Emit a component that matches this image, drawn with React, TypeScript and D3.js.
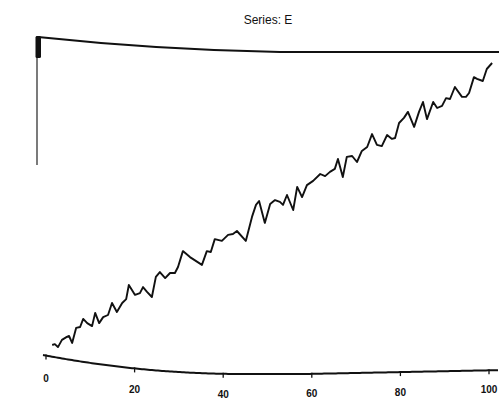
import * as d3 from "d3";

// Series E (x = index, y = value)
const xs = [1.4, 2.0, 2.7, 3.6, 4.7, 5.2, 5.9, 6.8, 7.7, 8.4, 9.3, 10.4, 11.1, 12.0, 12.9, 14.0, 14.9, 16.0, 17.2, 18.1, 18.7, 20.1, 21.2, 21.9, 22.8, 23.9, 24.8, 25.7, 26.9, 28.0, 29.1, 29.8, 30.9, 32.5, 35.2, 36.3, 37.2, 38.1, 39.7, 41.1, 42.2, 43.1, 45.1, 46.5, 47.4, 48.1, 49.4, 50.6, 51.7, 52.8, 53.5, 54.4, 55.8, 56.7, 57.8, 58.9, 60.3, 61.9, 63.0, 64.1, 65.2, 65.9, 67.0, 67.9, 69.1, 70.2, 71.3, 72.5, 73.6, 74.7, 75.8, 77.0, 78.1, 78.8, 79.7, 80.8, 81.7, 83.1, 84.2, 85.1, 86.0, 87.4, 88.3, 89.4, 90.3, 91.2, 92.3, 93.9, 94.8, 95.5, 96.6, 97.3, 98.6, 99.5, 100.7];
const ys = [5.0, 5.3, 4.3, 6.7, 7.7, 8.0, 5.7, 10.7, 11.0, 13.7, 12.3, 11.3, 15.7, 12.3, 14.3, 15.0, 19.0, 16.0, 19.0, 20.3, 25.0, 21.7, 22.3, 24.3, 22.7, 21.0, 27.7, 29.3, 27.3, 29.0, 29.0, 31.0, 36.3, 34.3, 31.7, 36.3, 36.0, 40.3, 39.7, 41.7, 42.0, 43.0, 39.7, 47.7, 51.7, 53.0, 45.7, 52.0, 53.3, 52.7, 51.7, 55.0, 50.0, 57.7, 54.3, 58.3, 59.7, 62.0, 61.3, 62.7, 63.7, 67.0, 61.0, 67.7, 68.0, 66.0, 69.7, 71.0, 75.3, 71.7, 71.3, 75.0, 73.7, 74.0, 79.0, 80.7, 82.7, 77.7, 82.7, 86.0, 80.3, 86.0, 84.0, 84.7, 87.3, 87.0, 91.0, 87.7, 87.7, 89.0, 94.3, 93.7, 93.0, 97.0, 99.0];
const xTicks = [0, 20, 40, 60, 80, 100];
const title = "Series: E";

const W = 499;
const H = 401;

// the scan is bent, so each tick label sits at its own height
const labelY: Record<number, number> = { 0: 382, 20: 393, 40: 398, 60: 397, 80: 396, 100: 393 };

export default function App() {
  const x = d3.scaleLinear().domain([0, 100]).range([46, 489]);
  const y = d3.scaleLinear().domain([0, 100]).range([360, 60]);

  const pts: [number, number][] = xs.map((v, i) => [v, ys[i]]);
  const line = d3
    .line<[number, number]>()
    .x((d) => x(d[0]))
    .y((d) => y(d[1]))
    .curve(d3.curveLinear);

  // bottom axis sags, top border droops on the left
  const sag = (px: number) => {
    const t = Math.min(1, Math.max(0, (px - 43) / 200));
    return 355 + 19 * (1 - (1 - t) * (1 - t)) - Math.max(0, (px - 305) / 200) * 4;
  };
  const bottom = d3.path();
  bottom.moveTo(43, sag(43));
  for (let px = 44; px <= W; px += 2) bottom.lineTo(px, sag(px));

  const top = d3.path();
  top.moveTo(38, 37);
  top.quadraticCurveTo(160, 50, 280, 52);
  top.lineTo(W, 52);

  return (
    <svg width={W} height={H} style={{ position: "absolute", left: 0, top: 0, background: "#fff" }}>
      <text x={268} y={24} textAnchor="middle" fontFamily="Liberation Sans, Arial, sans-serif" fontSize={12} fill="#111">
        {title}
      </text>

      {/* frame */}
      <path d={top.toString()} fill="none" stroke="#111" strokeWidth={2} />
      <line x1={37} y1={36} x2={37} y2={165} stroke="#222" strokeWidth={1.2} />
      <rect x={35.5} y={36} width={5.5} height={22} fill="#111" rx={1.5} />
      <path d={bottom.toString()} fill="none" stroke="#111" strokeWidth={2} />

      {xTicks.map((t) => (
        <g key={t}>
          <line x1={x(t)} x2={x(t)} y1={sag(x(t)) - 1} y2={sag(x(t)) + 4} stroke="#111" strokeWidth={1.3} />
          <text
            x={x(t)}
            y={labelY[t]}
            textAnchor="middle"
            fontFamily="Liberation Sans, Arial, sans-serif"
            fontWeight="bold"
            fontSize={10}
            fill="#111"
          >
            {t}
          </text>
        </g>
      ))}

      <path d={line(pts) ?? ""} fill="none" stroke="#111" strokeWidth={1.9} strokeLinejoin="round" />
    </svg>
  );
}
